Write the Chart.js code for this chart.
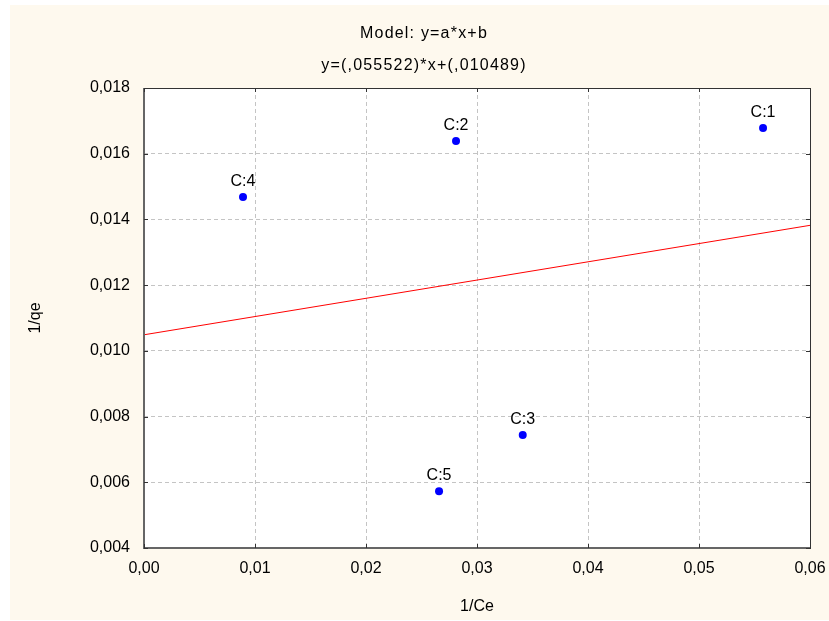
<!DOCTYPE html>
<html>
<head>
<meta charset="utf-8">
<script src="https://cdn.jsdelivr.net/npm/chart.js@4.4.0/dist/chart.umd.min.js"></script>
<style>
  html, body { margin: 0; padding: 0; background: #fff; }
  #wrap { width: 829px; height: 621px; position: relative; }
</style>
</head>
<body>
<div id="wrap"><canvas id="chart" width="829" height="621"></canvas></div>
<script>
/* ------------------- DATA ------------------- */
const pointLabels = ["C:1", "C:2", "C:3", "C:4", "C:5"];
const invCe = [0.05577, 0.02811, 0.03412, 0.00892, 0.02658];
const invQe = [0.01678, 0.01639, 0.00744, 0.01468, 0.00573];

const fitX = [0, 0.06];
const fitY = [0.010489, 0.013820];

const xTicks = [0, 0.01, 0.02, 0.03, 0.04, 0.05, 0.06];
const yTicks = [0.004, 0.006, 0.008, 0.010, 0.012, 0.014, 0.016, 0.018];

const titleLines = ["Model: y=a*x+b", "y=(,055522)*x+(,010489)"];

/* ------------------- HELPERS ------------------- */
const commaFmt = (v, d) => v.toFixed(d).replace(".", ",");
const FONT = "'Liberation Sans', Arial, sans-serif";

// background, white plot area, frame, inner tick marks, titles, point labels
const decorPlugin = {
  id: "decor",
  beforeDraw(chart) {
    const { ctx, chartArea: a } = chart;
    ctx.save();
    ctx.fillStyle = "#fff";
    ctx.fillRect(0, 0, chart.width, chart.height);
    ctx.fillStyle = "#fef9ee";
    ctx.fillRect(10, 5, chart.width - 10, chart.height - 6);
    ctx.fillStyle = "#fff";
    ctx.fillRect(a.left, a.top, a.right - a.left, a.bottom - a.top);
    ctx.restore();
  },
  afterDatasetsDraw(chart) {
    const { ctx, chartArea: a, scales } = chart;
    ctx.save();
    // frame
    ctx.strokeStyle = "#333";
    ctx.lineWidth = 1;
    ctx.strokeRect(a.left + 0.5, a.top + 0.5, a.right - a.left, a.bottom - a.top);
    ctx.strokeStyle = "#666";
    ctx.lineWidth = 2;
    ctx.beginPath();
    ctx.moveTo(a.left, a.top);
    ctx.lineTo(a.left, a.bottom);
    ctx.lineTo(a.right, a.bottom);
    ctx.stroke();
    // inner tick marks
    ctx.strokeStyle = "#333";
    ctx.lineWidth = 1;
    ctx.beginPath();
    xTicks.forEach(v => {
      const x = Math.round(scales.x.getPixelForValue(v)) + 0.5;
      ctx.moveTo(x, a.bottom); ctx.lineTo(x, a.bottom - 4);
      ctx.moveTo(x, a.top); ctx.lineTo(x, a.top + 4);
    });
    yTicks.forEach(v => {
      const y = Math.round(scales.y.getPixelForValue(v)) + 0.5;
      ctx.moveTo(a.left, y); ctx.lineTo(a.left + 4, y);
      ctx.moveTo(a.right, y); ctx.lineTo(a.right - 4, y);
    });
    ctx.stroke();
    // point labels
    ctx.fillStyle = "#000";
    ctx.font = "16px " + FONT;
    ctx.textAlign = "center";
    ctx.textBaseline = "alphabetic";
    const meta = chart.getDatasetMeta(1);
    meta.data.forEach((pt, i) => {
      ctx.fillText(pointLabels[i], pt.x, pt.y - 11);
    });
    // titles (centred a little right of the canvas middle, as in the original)
    ctx.font = "16px " + FONT;
    ctx.letterSpacing = "1.2px";
    ctx.textBaseline = "middle";
    const cx = 424;
    ctx.fillText(titleLines[0], cx, 34);
    ctx.fillText(titleLines[1], cx, 66);
    ctx.restore();
  }
};

/* ------------------- CHART ------------------- */
const ctx = document.getElementById("chart").getContext("2d");
new Chart(ctx, {
  type: "scatter",
  data: {
    datasets: [
      {
        type: "line",
        label: "fit",
        data: fitX.map((x, i) => ({ x, y: fitY[i] })),
        borderColor: "#ff0000",
        borderWidth: 1,
        pointRadius: 0,
        fill: false
      },
      {
        label: "points",
        data: invCe.map((x, i) => ({ x, y: invQe[i] })),
        backgroundColor: "#0000ff",
        borderColor: "#0000ff",
        pointRadius: 4,
        borderWidth: 0
      }
    ]
  },
  options: {
    responsive: false,
    animation: false,
    layout: { padding: { top: 88, right: 19, left: 0, bottom: 0 } },
    plugins: {
      legend: { display: false },
      tooltip: { enabled: false }
    },
    scales: {
      x: {
        type: "linear",
        min: 0, max: 0.06,
        afterBuildTicks: s => { s.ticks = xTicks.map(v => ({ value: v })); },
        afterFit: s => { s.height = 73; s.paddingRight = 0; s.paddingLeft = 0; },
        ticks: {
          color: "#000",
          font: { family: FONT, size: 16 },
          padding: 11,
          maxRotation: 0,
          callback: v => commaFmt(v, 2)
        },
        grid: { color: "#c4c4c4", drawTicks: false },
        border: { display: false, dash: [4, 3] },
        title: {
          display: true, text: "1/Ce", color: "#000",
          font: { family: FONT, size: 16 },
          padding: { top: 0, bottom: 5 }
        }
      },
      y: {
        type: "linear",
        min: 0.004, max: 0.018,
        afterBuildTicks: s => { s.ticks = yTicks.map(v => ({ value: v })); },
        afterFit: s => { s.width = 144; s.paddingTop = 0; s.paddingBottom = 0; },
        ticks: {
          color: "#000",
          font: { family: FONT, size: 16 },
          padding: 14,
          callback: v => commaFmt(v, 3)
        },
        grid: { color: "#c4c4c4", drawTicks: false },
        border: { display: false, dash: [4, 3] },
        title: {
          display: true, text: "1/qe", color: "#000",
          font: { family: FONT, size: 16 },
          padding: { top: 26, bottom: 0 }
        }
      }
    }
  },
  plugins: [decorPlugin]
});
</script>
</body>
</html>
